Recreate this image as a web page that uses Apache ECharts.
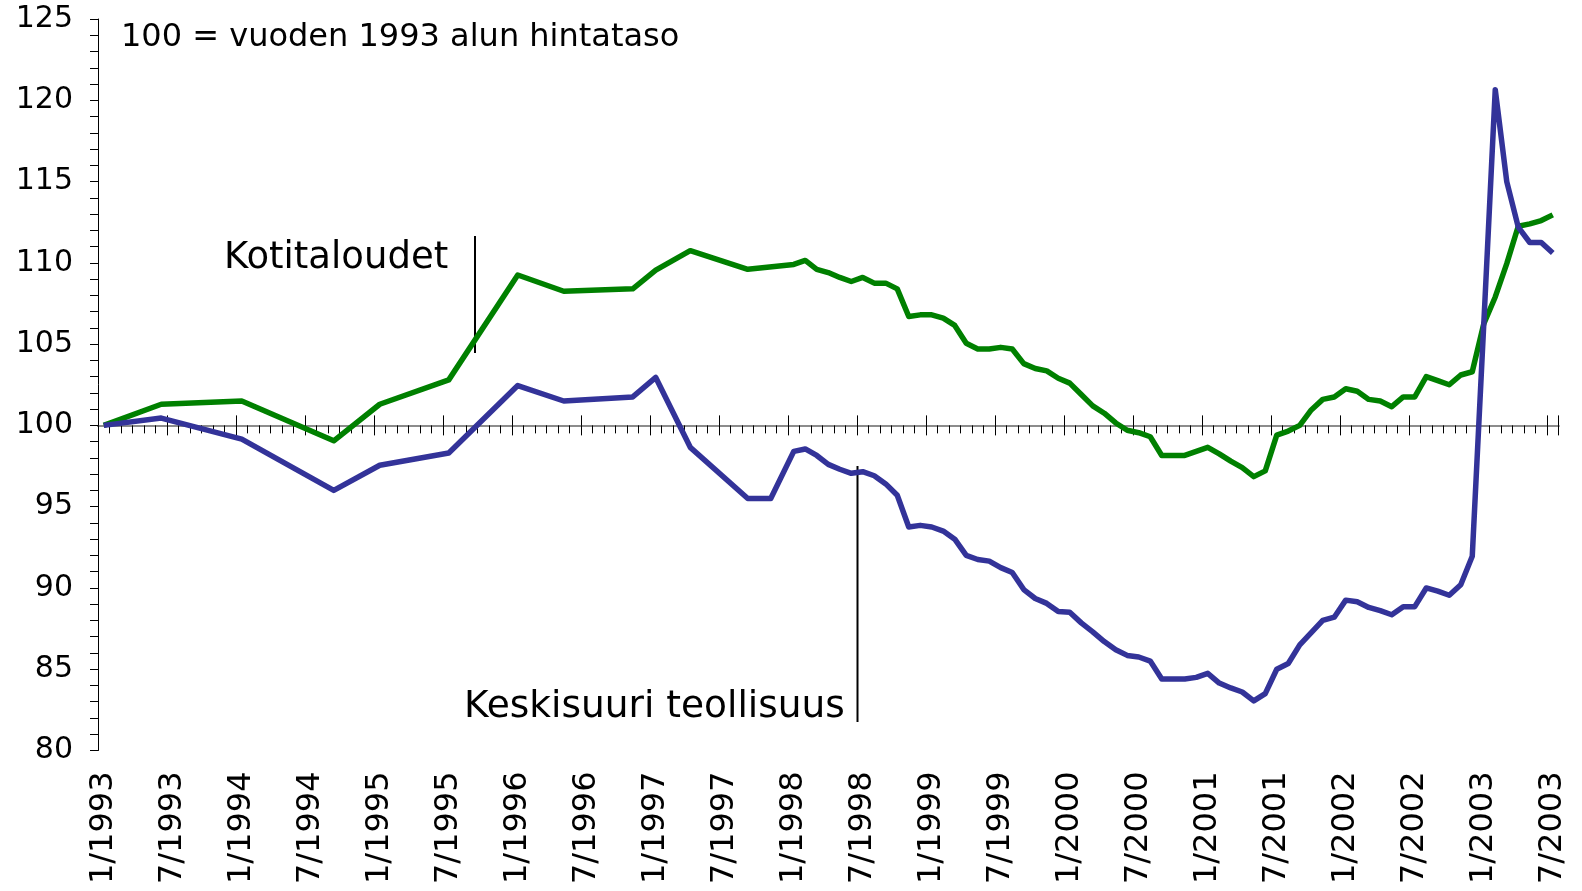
<!DOCTYPE html>
<html>
<head>
<meta charset="utf-8">
<title>Hintataso</title>
<script src="https://cdn.jsdelivr.net/npm/echarts@6.0.0/dist/echarts.min.js"></script>
<style>
  html, body { margin: 0; padding: 0; background: #fff; }
  #chart { width: 1582px; height: 891px; }
</style>
</head>
<body>
<div id="chart"></div>
<script>
// monthly categories 1/1993 .. 7/2003
const months = [];
for (let y = 1993; y <= 2003; y++) {
  for (let m = 1; m <= 12; m++) {
    if (y === 2003 && m > 7) break;
    months.push(m + '/' + y);
  }
}

// index 100 = start of 1993; null = no observation that month
const kotitaloudet = [
  100, null, null, null, null, 101.3, null, null, null, null, null, null,
  101.5, null, null, null, null, null, null, null, 99.05, null, null, null,
  101.3, null, null, null, null, null, 102.8, null, null, null, null, null,
  109.25, null, null, null, 108.25, null, null, null, null, null, 108.4, null,
  109.55, null, null, 110.75, null, null, null, null, 109.6, null, null, null,
  109.9, 110.15, 109.6, 109.4, 109.1, 108.85, 109.1, 108.75, 108.75, 108.4, 106.7, 106.8,
  106.8, 106.6, 106.15, 105.05, 104.7, 104.7, 104.8, 104.7, 103.8, 103.5, 103.35, 102.9,
  102.6, 101.9, 101.2, 100.75, 100.15, 99.7, 99.55, 99.3, 98.15, 98.15, 98.15, 98.4,
  98.65, 98.25, 97.8, 97.4, 96.85, 97.2, 99.4, 99.65, 100.0, 100.95, 101.6, 101.75,
  102.25, 102.1, 101.6, 101.5, 101.15, 101.75, 101.75, 103.0, 102.75, 102.5, 103.1, 103.3,
  106.25, 107.9, 109.95, 112.25, 112.4, 112.6, 112.95
];

const keskisuuriTeollisuus = [
  100, null, null, null, null, 100.45, null, null, null, null, null, null,
  99.15, null, null, null, null, null, null, null, 96.0, null, null, null,
  97.55, null, null, null, null, null, 98.3, null, null, null, null, null,
  102.45, null, null, null, 101.5, null, null, null, null, null, 101.75, null,
  102.95, null, null, 98.65, null, null, null, null, 95.5, null, 95.5, null,
  98.4, 98.55, 98.15, 97.6, 97.3, 97.05, 97.15, 96.9, 96.4, 95.7, 93.75, 93.85,
  93.75, 93.5, 93.0, 92.0, 91.75, 91.65, 91.25, 90.95, 89.9, 89.35, 89.05, 88.55,
  88.5, 87.85, 87.3, 86.7, 86.2, 85.85, 85.75, 85.5, 84.4, 84.4, 84.4, 84.5,
  84.75, 84.15, 83.85, 83.6, 83.05, 83.5, 85.0, 85.35, 86.5, 87.25, 88.0, 88.2,
  89.25, 89.15, 88.8, 88.6, 88.35, 88.85, 88.85, 90.0, 89.8, 89.55, 90.2, 91.95,
  106.2, 120.65, 115.0, 112.2, 111.25, 111.25, 110.6
];

const yMin = 80;
const yMax = 125;
const baseLevel = 100;

const FONT = '"DejaVu Sans", Verdana, sans-serif';
const gridTop = 19;
const gridHeight = 731.5;
const gridLeft = 98;
const gridWidth = 1460.5;

// the month axis sits on the 100 line, labels stay at the bottom
const baseOffset = -gridHeight * (baseLevel - yMin) / (yMax - yMin);

const tickAxis = (length, inside, interval) => ({
  type: 'category',
  data: months,
  position: 'bottom',
  offset: baseOffset,
  boundaryGap: true,
  axisLine: { show: true, lineStyle: { color: '#8c8c8c', width: 2 } },
  axisTick: { show: true, interval: interval, length: length, inside: inside, lineStyle: { color: '#000', width: 1 } },
  axisLabel: { show: false },
  splitLine: { show: false }
});

const chart = echarts.init(document.getElementById('chart'), null, { renderer: 'canvas' });

const option = {
  animation: false,
  backgroundColor: '#fff',
  grid: {
    left: gridLeft,
    top: gridTop,
    width: gridWidth,
    height: gridHeight,
    containLabel: false,
    outerBoundsMode: 'none'
  },
  xAxis: [
    {
      type: 'category',
      data: months,
      position: 'bottom',
      boundaryGap: true,
      axisLine: { show: false },
      axisTick: { show: false },
      axisLabel: {
        interval: 5,
        rotate: 90,
        margin: 21,
        color: '#000',
        fontFamily: FONT,
        fontSize: 32
      },
      splitLine: { show: false }
    },
    tickAxis(8, false, 0),
    tickAxis(10, false, 5),
    tickAxis(10, true, 5)
  ],
  yAxis: {
    type: 'value',
    min: yMin,
    max: yMax,
    interval: 5,
    axisLine: { show: true, lineStyle: { color: '#000', width: 1 } },
    axisTick: { show: true, length: 8, lineStyle: { color: '#000' } },
    minorTick: { show: true, splitNumber: 5, length: 8, lineStyle: { color: '#000' } },
    splitLine: { show: false },
    axisLabel: {
      margin: 25,
      color: '#000',
      fontFamily: FONT,
      fontSize: 30
    }
  },
  series: [
    {
      name: 'Kotitaloudet',
      type: 'line',
      data: kotitaloudet,
      connectNulls: true,
      showSymbol: false,
      symbol: 'none',
      lineStyle: { color: '#008000', width: 5.5, join: 'round' },
      z: 3
    },
    {
      name: 'Keskisuuri teollisuus',
      type: 'line',
      data: keskisuuriTeollisuus,
      connectNulls: true,
      showSymbol: false,
      symbol: 'none',
      lineStyle: { color: '#333399', width: 5.5, join: 'round' },
      z: 4
    }
  ],
  graphic: [
    {
      type: 'text',
      x: 121,
      y: 38,
      style: { text: '100 = vuoden 1993 alun hintataso', font: '32px ' + FONT, fill: '#000', verticalAlign: 'middle' }
    },
    {
      type: 'text',
      x: 224,
      y: 258,
      style: { text: 'Kotitaloudet', font: '37px ' + FONT, fill: '#000', verticalAlign: 'middle' }
    },
    {
      type: 'line',
      shape: { x1: 475, y1: 236, x2: 475, y2: 353 },
      style: { stroke: '#000', lineWidth: 2 }
    },
    {
      type: 'text',
      x: 464,
      y: 707,
      style: { text: 'Keskisuuri teollisuus', font: '37.5px ' + FONT, fill: '#000', verticalAlign: 'middle' }
    },
    {
      type: 'line',
      shape: { x1: 857.5, y1: 466, x2: 857.5, y2: 722 },
      style: { stroke: '#000', lineWidth: 2 }
    }
  ]
};

chart.setOption(option);

window.addEventListener('resize', () => chart.resize());
</script>
</body>
</html>
